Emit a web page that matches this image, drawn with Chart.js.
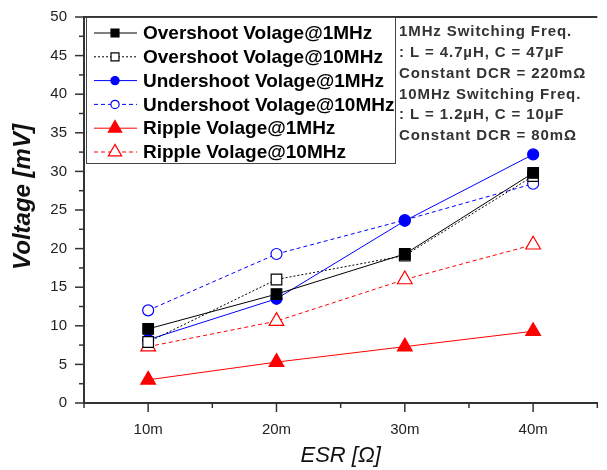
<!DOCTYPE html>
<html>
<head>
<meta charset="utf-8">
<title>ESR vs Voltage</title>
<script src="https://cdn.jsdelivr.net/npm/chart.js"></script>
<style>
  html, body { margin: 0; padding: 0; background: #fff; overflow: hidden; }
  #wrap { width: 607px; height: 470px; }
</style>
</head>
<body>
<div id="wrap"><canvas id="canvas"></canvas></div>
<script>
// data
var esr = [10, 20, 30, 40];
var overshoot1M = [9.6, 14.1, 19.3, 29.8];
var overshoot10M = [7.9, 16.0, 19.1, 29.4];
var undershoot1M = [8.2, 13.5, 23.6, 32.2];
var undershoot10M = [12.0, 19.3, 23.7, 28.4];
var ripple1M = [3.0, 5.3, 7.3, 9.3];
var ripple10M = [7.3, 10.6, 16.0, 20.5];

var xTickLabels = [10, 20, 30, 40];
var notes = [
  '1MHz Switching Freq.',
  ': L = 4.7\u00b5H, C = 47\u00b5F',
  'Constant DCR = 220m\u03a9',
  '10MHz Switching Freq.',
  ': L = 1.2\u00b5H, C = 10\u00b5F',
  'Constant DCR = 80m\u03a9'
];

function pts(vals) {
  return vals.map(function (v, i) { return {x: esr[i], y: v}; });
}

function series(label, vals, color, style, filled, radius, dash) {
  return {
    label: label,
    data: pts(vals),
    borderColor: color,
    backgroundColor: filled ? color : '#fff',
    borderWidth: 1,
    borderDash: dash,
    pointStyle: style,
    pointRadius: radius,
    pointBorderColor: color,
    pointBackgroundColor: filled ? color : '#fff',
    pointBorderWidth: 1.2,
    fill: false,
    tension: 0,
    _filled: filled
  };
}

var datasets = [
  series('Overshoot Volage@1MHz', overshoot1M, '#000000', 'rect', true, 7.5, []),
  series('Overshoot Volage@10MHz', overshoot10M, '#000000', 'rect', false, 7.5, [2, 2]),
  series('Undershoot Volage@1MHz', undershoot1M, '#0000ff', 'circle', true, 5.5, []),
  series('Undershoot Volage@10MHz', undershoot10M, '#0000ff', 'circle', false, 5.5, [4, 3]),
  series('Ripple Volage@1MHz', ripple1M, '#ff0000', 'triangle', true, 8.5, []),
  series('Ripple Volage@10MHz', ripple10M, '#ff0000', 'triangle', false, 8.5, [4, 3])
];

function marker(ctx, style, x, y, r, color, filled) {
  ctx.save();
  ctx.setLineDash([]);
  ctx.lineWidth = 1.2;
  ctx.strokeStyle = color;
  ctx.fillStyle = filled ? color : '#fff';
  ctx.beginPath();
  if (style === 'rect') {
    var s = r * Math.SQRT1_2;
    ctx.rect(x - s, y - s, 2 * s, 2 * s);
  } else if (style === 'circle') {
    ctx.arc(x, y, r, 0, Math.PI * 2);
  } else {
    ctx.moveTo(x, y - r);
    ctx.lineTo(x + r * Math.cos(Math.PI / 6), y + r / 2);
    ctx.lineTo(x - r * Math.cos(Math.PI / 6), y + r / 2);
    ctx.closePath();
  }
  ctx.fill();
  ctx.stroke();
  ctx.restore();
}

var decor = {
  id: 'decor',
  afterDraw: function (chart) {
    var ctx = chart.ctx;
    var a = chart.chartArea;
    var xs = chart.scales.x, ys = chart.scales.y;
    ctx.save();
    // top frame line
    ctx.strokeStyle = '#333';
    ctx.lineWidth = 2;
    ctx.beginPath();
    ctx.moveTo(a.left, a.top);
    ctx.lineTo(a.right, a.top);
    ctx.stroke();

    // ticks, major and minor
    ctx.lineWidth = 1.5;
    var v, p, len;
    for (v = 5; v <= 45; v += 5) {
      p = xs.getPixelForValue(v);
      len = v % 10 === 0 ? 9 : 5;
      ctx.beginPath();
      ctx.moveTo(p, a.bottom);
      ctx.lineTo(p, a.bottom + len);
      ctx.stroke();
    }
    for (v = 0; v <= 50; v += 2.5) {
      p = ys.getPixelForValue(v);
      len = v % 5 === 0 ? 9 : 5;
      ctx.beginPath();
      ctx.moveTo(a.left, p);
      ctx.lineTo(a.left - len, p);
      ctx.stroke();
    }

    // y title
    ctx.save();
    ctx.translate(23, 197);
    ctx.rotate(-Math.PI / 2);
    ctx.fillStyle = '#111';
    ctx.textAlign = 'center';
    ctx.textBaseline = 'middle';
    ctx.font = 'italic bold 24px "Liberation Sans", Arial, sans-serif';
    ctx.fillText('Voltage [mV]', 0, 0);
    ctx.restore();

    // legend box
    var bx = 86, by = 17, bw = 309, bh = 146;
    ctx.fillStyle = '#fff';
    ctx.fillRect(bx, by, bw, bh);
    ctx.strokeStyle = '#444';
    ctx.lineWidth = 1;
    ctx.strokeRect(bx + 0.5, by + 0.5, bw, bh);
    ctx.font = 'bold 19px "Liberation Sans", Arial, sans-serif';
    ctx.textBaseline = 'middle';
    ctx.textAlign = 'left';
    chart.data.datasets.forEach(function (ds, i) {
      var y = 33 + i * 23.8;
      ctx.save();
      ctx.strokeStyle = ds.borderColor;
      ctx.lineWidth = 1;
      ctx.setLineDash(ds.borderDash);
      ctx.beginPath();
      ctx.moveTo(94, y);
      ctx.lineTo(137, y);
      ctx.stroke();
      ctx.restore();
      var k = ds.pointStyle === 'triangle' ? 0.9 : 0.75;
      marker(ctx, ds.pointStyle, 115, y, ds.pointRadius * k, ds.borderColor, ds._filled);
      ctx.fillStyle = '#000';
      ctx.fillText(ds.label, 143, y + 1);
    });

    // notes
    ctx.fillStyle = '#333';
    ctx.font = 'bold 15px "Liberation Sans", Arial, sans-serif';
    ctx.letterSpacing = '0.9px';
    notes.forEach(function (t, i) {
      ctx.fillText(t, 399, 32 + i * 20.8);
    });
    ctx.letterSpacing = '0px';
    ctx.restore();
  }
};

new Chart(document.getElementById('canvas'), {
  type: 'line',
  data: {datasets: datasets},
  plugins: [decor],
  options: {
    responsive: true,
    maintainAspectRatio: false,
    animation: false,
    layout: {padding: {top: 15, right: 0, left: 0, bottom: 0}},
    plugins: {legend: {display: false}, tooltip: {enabled: false}},
    scales: {
      x: {
        type: 'linear',
        min: 5,
        max: 45,
        afterFit: function (s) { s.height = 67; },
        afterBuildTicks: function (s) {
          s.ticks = xTickLabels.map(function (v) { return {value: v}; });
        },
        ticks: {
          color: '#222',
          padding: 9,
          maxRotation: 0,
          font: {family: '"Liberation Sans", Arial, sans-serif', size: 15},
          callback: function (v) { return v + 'm'; }
        },
        grid: {display: true, drawOnChartArea: false, tickLength: 9, tickColor: 'rgba(0,0,0,0)'},
        border: {display: true, color: '#333', width: 2},
        title: {
          display: true,
          text: 'ESR [\u03a9]',
          color: '#111',
          padding: {top: 0, bottom: 1},
          font: {family: '"Liberation Sans", Arial, sans-serif', size: 22, style: 'italic'}
        }
      },
      y: {
        min: 0,
        max: 50,
        afterFit: function (s) { s.width = 84; },
        ticks: {
          stepSize: 5,
          color: '#222',
          padding: 8,
          font: {family: '"Liberation Sans", Arial, sans-serif', size: 15}
        },
        grid: {display: true, drawOnChartArea: false, tickLength: 9, tickColor: 'rgba(0,0,0,0)'},
        border: {display: true, color: '#333', width: 2},
        title: {display: false}
      }
    }
  }
});
</script>
</body>
</html>
